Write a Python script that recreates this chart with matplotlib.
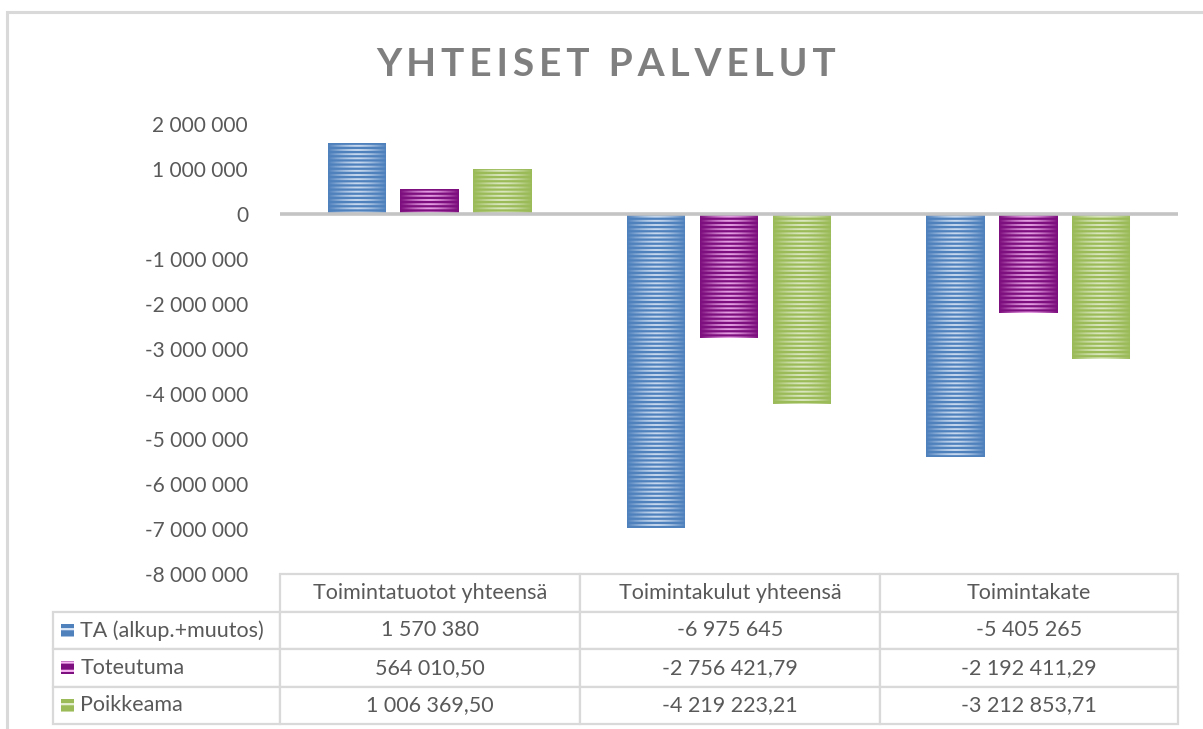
import numpy as np
import matplotlib
matplotlib.use("Agg")
import matplotlib.pyplot as plt
from matplotlib.patches import Rectangle
from matplotlib.ticker import FuncFormatter

plt.rcParams["font.family"] = ["Lato", "DejaVu Sans"]
plt.rcParams["hatch.linewidth"] = 1.6

# ----- data -----
categories = ["Toimintatuotot yhteensä", "Toimintakulut yhteensä", "Toimintakate"]
series_names = ["TA (alkup.+muutos)", "Toteutuma", "Poikkeama"]
ta_values = [1570380, -6975645, -5405265]
toteutuma_values = [564010.50, -2756421.79, -2192411.29]
poikkeama_values = [1006369.50, -4219223.21, -3212853.71]
series_decimals = [0, 2, 2]
yticks = [2000000, 1000000, 0, -1000000, -2000000, -3000000, -4000000,
          -5000000, -6000000, -7000000, -8000000]

base_colors = ["#4f81bd", "#7e0f7e", "#9bbb59"]
light_colors = ["#dce8f7", "#f7b8f4", "#e6efd2"]
TEXT = "#595959"
GRID = "#d9d9d9"


def fi_num(v, dec=0):
    s = f"{abs(v):,.{dec}f}".replace(",", " ").replace(".", ",")
    return ("-" if v < 0 else "") + s


fig = plt.figure(figsize=(12.03, 7.29), dpi=100)
ax = fig.add_axes([280 / 1203, 1 - 574 / 729, 898 / 1203, 450 / 729])

x = np.arange(len(categories))
width = 0.195
offsets = [-0.243, 0.0, 0.243]
all_series = [ta_values, toteutuma_values, poikkeama_values]

for vals, off, base, light in zip(all_series, offsets, base_colors, light_colors):
    bars = ax.bar(x + off, vals, width, color=base, edgecolor="none", zorder=2)
    for b in bars:
        # horizontal gradient: lighter towards the middle of the bar
        grad = np.linspace(-1, 1, 64)
        alpha = np.clip(1 - np.abs(grad) ** 1.5, 0, 1) * 0.85
        img = np.zeros((1, 64, 4))
        img[..., :3] = matplotlib.colors.to_rgb(light)
        img[..., 3] = alpha
        x0, y0 = b.get_x(), b.get_y()
        im = ax.imshow(img, extent=(x0, x0 + b.get_width(), y0, y0 + b.get_height()),
                       aspect="auto", interpolation="bilinear", zorder=3)
        im.set_clip_path(b)
    ax.bar(x + off, vals, width, facecolor="none", edgecolor=base, hatch="----",
           linewidth=0, zorder=4)

ax.axhline(0, color="#c4c4c4", lw=2.6, zorder=5)

ax.set_xlim(-0.5, 2.5)
ax.set_ylim(-8000000, 2000000)
ax.set_yticks(yticks)
ax.yaxis.set_major_formatter(FuncFormatter(lambda v, p: fi_num(v)))
ax.tick_params(axis="y", length=0, pad=23, labelsize=15, labelcolor=TEXT)
ax.set_xticks([])
for s in ax.spines.values():
    s.set_visible(False)

# ----- data table -----
cell_text = []
for name, vals, dec in zip(series_names, all_series, series_decimals):
    cell_text.append([name] + [fi_num(v, dec) for v in vals])

lab_w = 227 / 898
tbl = ax.table(cellText=cell_text, colLabels=[""] + categories,
               colWidths=[lab_w, 300 / 898, 300 / 898, 298 / 898],
               cellLoc="center", bbox=[-lab_w, -150 / 450, 1 + lab_w, 150 / 450])
tbl.auto_set_font_size(False)
for (r, c), cell in tbl.get_celld().items():
    cell.set_edgecolor(GRID)
    cell.set_linewidth(1.6)
    cell.get_text().set_color(TEXT)
    cell.get_text().set_fontsize(15.5)
    if r == 0 and c == 0:
        cell.visible_edges = ""
    if c == 0 and r > 0:
        cell.get_text().set_ha("left")
        cell.PAD = 0.12

# legend keys inside the row label cells
row_h = 150 / 450 / 4
for i, (base, light) in enumerate(zip(base_colors, light_colors)):
    yc = -150 / 450 + row_h * (2.5 - i)
    sq = 13
    key = Rectangle((-(280 - 61) / 898, yc - sq / 2 / 450), sq / 898, sq / 450,
                    transform=ax.transAxes, facecolor=base, edgecolor=light,
                    hatch="--", linewidth=0, clip_on=False, zorder=6)
    ax.add_patch(key)

# title
fig.text(0.504, 1 - 64 / 729, "Y\u2009H\u2009T\u2009E\u2009I\u2009S\u2009E\u2009T  P\u2009A\u2009L\u2009V\u2009E\u2009L\u2009U\u2009T",
         ha="center", va="center", fontsize=28, fontweight="bold", color="#7f7f7f")

# chart area border (top and left visible)
fig.add_artist(Rectangle((7 / 1203, -0.1), 1.2, 1.1 + (729 - 12) / 729 - 1 + 0.0,
                         transform=fig.transFigure, facecolor="none",
                         edgecolor=GRID, linewidth=2.2))

fig.savefig("out.png", dpi=100)
